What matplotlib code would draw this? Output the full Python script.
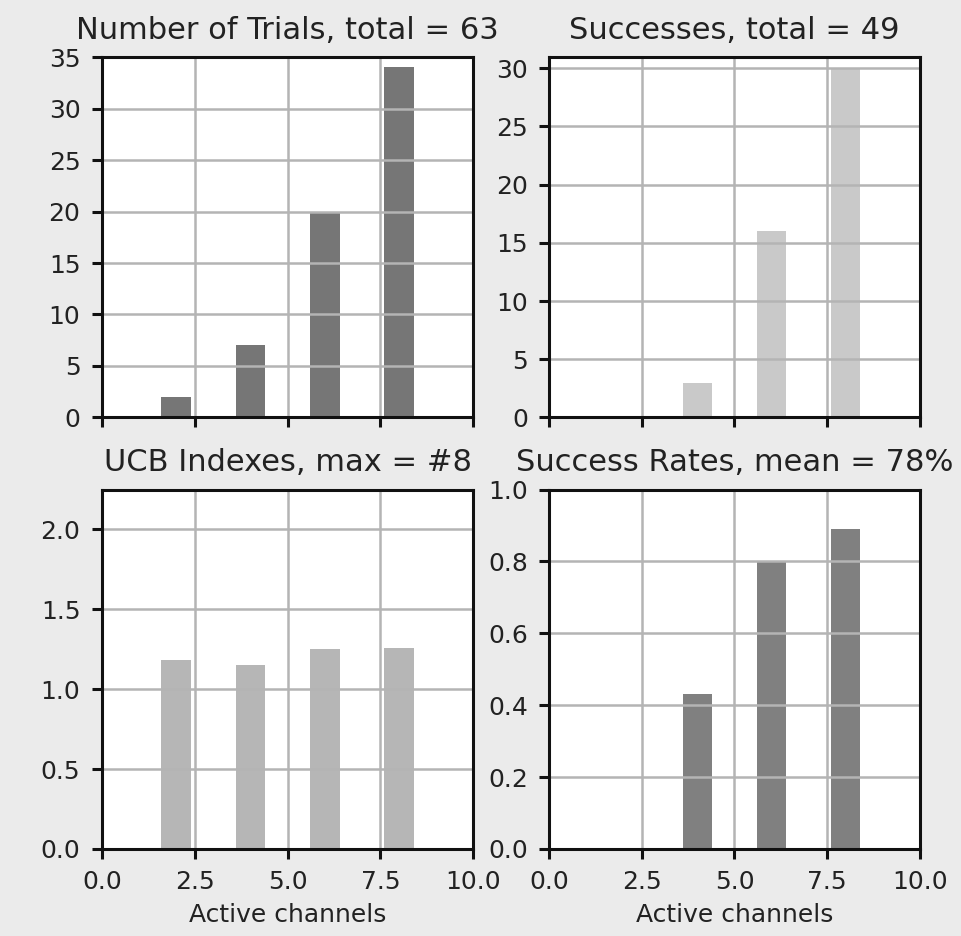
import matplotlib
matplotlib.use("Agg")
import matplotlib.pyplot as plt

channels = [2, 4, 6, 8]
trials = [2, 7, 20, 34]
successes = [0, 3, 16, 30]
ucb_indexes = [1.18, 1.15, 1.25, 1.26]
success_rates = [0.0, 0.43, 0.80, 0.89]

titles = ["Number of Trials, total = 63", "Successes, total = 49",
          "UCB Indexes, max = #8", "Success Rates, mean = 78%"]
xticks = [0.0, 2.5, 5.0, 7.5, 10.0]
xlabel = "Active channels"

plt.rcParams['font.family'] = ['DejaVu Sans']
fig = plt.figure(figsize=(9.62, 9.36), dpi=100, facecolor='#ebebeb')

positions = [
    [0.106, 0.554, 0.386, 0.385],
    [0.571, 0.554, 0.385, 0.385],
    [0.106, 0.093, 0.386, 0.384],
    [0.571, 0.093, 0.385, 0.384],
]
series = [trials, successes, ucb_indexes, success_rates]
colors = ['#767676', '#c9c9c9', '#b6b6b6', '#808080']
ylims = [(0, 35), (0, 30.95), (0, 2.25), (0, 1.0)]

for i, (pos, vals, col, yl, title) in enumerate(zip(positions, series, colors, ylims, titles)):
    ax = fig.add_axes(pos)
    ax.set_facecolor('white')
    ax.bar(channels, vals, width=0.8, color=col)
    ax.set_xlim(0, 10)
    ax.set_ylim(*yl)
    ax.set_xticks(xticks)
    ax.grid(True, color='#b4b4b4', linewidth=1.8)
    ax.set_title(title, fontsize=22, pad=13, color='#222222')
    for s in ax.spines.values():
        s.set_linewidth(2.2)
        s.set_color('#111111')
    ax.tick_params(labelsize=18, width=2.2, length=7.5, pad=8,
                   color='#111111', labelcolor='#222222')
    if i < 2:
        ax.set_xticklabels([])
    else:
        ax.set_xticklabels([f"{t:.1f}" for t in xticks])
        ax.set_xlabel(xlabel, fontsize=18, color='#222222', labelpad=6)
    if i == 2:
        ax.set_yticks([0.0, 0.5, 1.0, 1.5, 2.0])

fig.savefig("out.png", dpi=100, facecolor=fig.get_facecolor())
